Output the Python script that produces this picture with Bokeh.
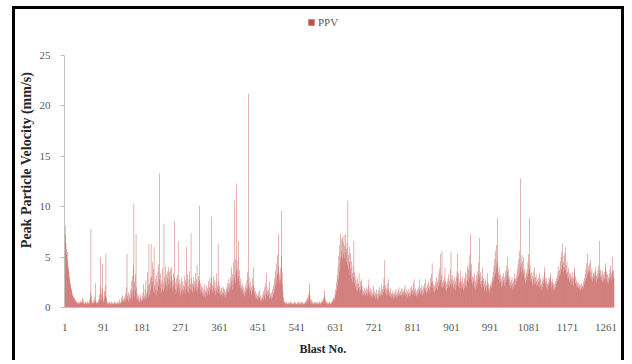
from bokeh.plotting import figure
from bokeh.models import FixedTicker, Range1d, Legend, LegendItem, Title
from bokeh.embed import file_html
from bokeh.resources import INLINE

# Peak particle velocity (mm/s) per blast
ppv = [
    9.5,8.1,7.2,6.4,5.8,5.2,5.5,4.6,4.1,3.8,3.5,3.0,2.8,2.4,2.2,1.9,1.7,1.5,1.3,1.2,
    1.1,0.9,0.8,1.0,0.7,0.6,0.8,0.5,0.6,0.4,0.5,0.4,0.6,0.3,0.5,0.4,0.7,0.5,0.4,0.6,
    0.5,1.0,0.6,0.4,0.8,0.5,0.3,0.4,0.6,0.5,0.4,0.3,0.5,0.6,0.4,0.3,0.5,0.7,0.4,0.9,
    1.5,7.8,1.2,0.6,0.4,0.5,0.8,0.4,0.6,1.1,0.5,2.4,0.7,0.5,0.4,0.6,0.5,0.4,0.8,0.5,
    0.6,1.3,0.9,2.1,5.0,1.4,0.8,1.9,4.3,1.1,0.7,0.5,1.6,0.9,2.2,1.2,5.3,1.0,0.6,0.4,
    0.5,0.3,0.4,0.6,0.5,0.4,0.3,0.5,0.4,0.6,0.3,0.4,0.5,0.3,0.4,0.6,0.5,0.3,0.4,0.5,
    0.4,0.3,0.5,0.4,0.6,0.3,0.5,0.4,0.8,0.5,0.4,0.6,1.0,0.5,0.7,1.2,0.6,0.9,0.5,0.8,
    1.1,0.7,1.4,0.9,2.0,5.3,1.2,0.8,1.5,0.6,0.9,1.3,0.7,1.8,1.0,2.6,1.4,0.9,3.1,1.6,
    4.2,10.3,2.5,1.1,3.3,1.7,7.3,2.0,0.9,1.4,0.8,1.2,0.6,1.0,0.7,0.5,0.9,1.3,0.6,0.8,
    1.1,0.7,1.5,0.9,2.3,1.2,0.8,1.8,1.0,2.7,1.4,0.9,3.5,1.6,2.2,1.1,6.3,2.4,1.3,2.9,
    1.7,6.3,3.1,2.0,4.5,2.6,1.5,3.8,6.0,2.2,1.4,2.8,1.8,3.2,1.2,2.5,1.6,3.6,2.1,4.3,
    13.3,2.8,1.9,3.4,2.3,1.5,2.7,1.8,3.9,2.4,1.6,8.3,3.0,1.9,2.6,4.1,2.2,3.3,1.7,2.9,
    3.6,2.3,4.0,2.8,3.5,1.9,3.8,2.5,4.0,3.1,2.0,2.7,1.6,3.4,2.2,8.6,3.0,1.8,2.5,1.4,
    2.9,1.7,3.2,2.1,6.6,2.4,1.5,2.8,1.9,1.2,2.3,1.6,3.0,1.8,2.6,1.3,2.2,1.7,3.1,2.0,
    1.4,2.7,1.8,6.0,2.5,1.6,3.3,2.1,1.5,2.8,1.9,3.6,2.3,1.7,7.4,2.9,1.8,2.4,1.5,3.0,
    2.2,1.6,2.6,1.9,3.4,2.3,1.7,2.8,4.2,2.0,1.5,2.5,3.1,10.1,2.7,1.8,2.4,1.4,2.1,1.6,
    1.3,2.0,1.5,1.1,1.8,2.3,1.2,1.7,1.0,1.5,2.2,1.4,1.9,1.2,2.6,1.6,2.0,1.3,3.0,1.8,
    2.4,9.0,2.9,1.7,2.2,1.4,3.1,2.0,1.6,2.7,1.9,1.3,2.5,1.7,3.4,2.1,1.5,6.3,2.6,1.8,
    1.4,2.2,1.6,1.2,1.9,1.3,2.0,1.5,1.1,2.0,1.4,1.8,1.2,1.6,1.0,1.5,1.9,1.3,2.4,1.6,
    2.1,1.5,2.8,1.9,2.4,1.7,3.0,2.2,4.0,2.6,1.8,3.3,2.3,4.5,2.7,10.6,3.2,4.8,2.5,3.6,
    12.3,3.9,2.8,4.6,6.6,3.1,2.2,3.7,2.6,1.9,2.9,2.1,1.6,2.4,1.8,1.3,2.0,1.5,1.1,1.7,
    1.4,2.2,1.6,1.9,2.7,1.8,3.5,2.3,21.2,3.0,2.0,1.5,2.5,1.7,1.3,2.1,1.6,2.9,1.8,4.0,
    2.2,1.5,1.9,1.2,1.6,1.0,1.4,0.9,1.2,0.8,1.1,1.5,0.9,1.7,1.0,0.7,1.2,0.8,1.0,0.6,
    0.9,1.3,0.8,1.6,1.1,2.0,1.3,0.9,2.4,1.4,3.4,1.6,1.1,2.0,1.3,1.7,0.9,2.6,1.4,1.0,
    1.2,0.8,1.5,1.0,1.8,1.2,2.2,1.5,2.9,1.8,3.6,2.2,4.4,2.6,3.1,5.2,3.4,7.3,4.1,2.7,
    3.3,2.4,3.9,2.8,5.1,9.6,3.5,2.3,1.6,1.0,0.7,0.5,0.6,0.4,0.5,0.3,0.4,0.6,0.4,0.3,
    0.5,0.4,0.3,0.5,0.4,0.6,0.3,0.4,0.5,0.3,0.4,0.5,0.3,0.4,0.6,0.4,0.3,0.5,0.4,0.3,
    0.4,0.5,0.3,0.4,0.6,0.3,0.5,0.4,0.3,0.5,0.4,0.3,0.6,0.4,0.5,0.3,0.4,0.5,0.3,0.4,
    0.6,0.5,0.4,0.8,0.6,1.0,0.7,1.3,0.9,1.6,2.4,1.1,0.7,0.5,0.8,0.4,0.6,0.3,0.5,0.4,
    0.3,0.5,0.4,0.3,0.6,0.4,0.5,0.3,0.4,0.5,0.3,0.4,0.6,0.5,0.4,0.3,0.5,0.4,0.6,0.7,
    0.5,0.8,0.6,1.0,1.2,1.7,0.9,0.7,0.5,0.4,0.6,0.3,0.5,0.4,0.3,0.5,0.4,0.6,0.3,0.4,
    0.5,0.4,0.6,0.7,0.5,0.8,1.0,0.6,0.9,1.3,1.8,1.2,2.5,1.6,3.2,2.1,4.0,2.8,5.1,3.6,
    6.2,4.4,7.3,5.0,6.8,5.6,7.0,4.8,6.5,5.3,7.2,4.9,6.1,5.5,7.3,4.6,5.8,6.4,4.2,10.6,
    5.2,3.8,6.0,4.5,3.2,5.4,3.9,2.8,4.6,3.4,2.5,4.1,3.0,6.6,3.5,2.4,3.1,2.0,2.7,1.8,
    2.3,1.6,2.9,1.9,2.4,3.4,2.0,1.5,2.6,1.8,2.2,2.8,1.7,1.3,2.1,1.6,1.2,1.9,1.4,1.1,
    1.7,1.3,2.0,1.5,1.2,1.8,1.4,2.2,2.8,1.6,1.3,1.9,1.1,1.5,1.2,1.8,1.0,1.4,2.1,1.3,
    1.1,1.6,1.2,0.9,1.5,1.1,1.8,1.3,0.8,1.4,1.0,1.7,1.2,2.0,1.4,1.1,1.6,2.3,1.3,1.8,
    1.2,2.1,1.5,2.9,1.8,4.7,2.2,1.4,1.9,1.2,1.7,2.4,1.3,1.8,2.8,1.5,1.1,1.6,1.2,1.9,
    1.4,1.0,1.5,1.1,1.7,1.3,0.9,1.4,1.0,1.6,1.2,1.8,1.3,0.9,1.5,1.1,1.7,1.2,2.0,1.4,
    1.1,1.6,1.2,1.9,1.3,1.0,1.5,1.8,1.2,1.6,1.9,1.4,2.2,1.5,1.1,1.7,1.3,1.0,1.6,1.2,
    1.4,1.8,1.1,1.5,1.2,1.9,1.4,2.1,1.6,1.3,1.8,2.4,1.5,2.8,1.7,1.2,1.9,1.4,1.1,1.6,
    1.3,1.8,1.2,2.0,1.5,2.8,1.7,1.3,1.9,1.4,2.2,1.6,1.2,1.8,1.4,2.1,1.5,1.9,2.4,2.8,
    1.7,1.3,2.0,1.5,2.3,1.6,1.9,2.6,1.8,2.2,1.5,2.9,2.0,3.3,2.4,4.4,2.6,1.9,2.3,1.6,
    2.1,1.5,2.6,1.8,2.3,3.0,1.9,2.5,1.7,2.8,2.1,3.4,2.4,3.9,5.3,2.7,2.0,3.2,5.6,2.5,
    1.9,2.7,2.1,3.0,2.4,4.0,2.6,1.8,2.3,1.6,2.5,1.9,2.9,2.2,3.3,2.0,2.6,3.8,2.3,5.5,
    2.8,2.1,3.2,2.4,1.8,2.7,2.0,3.0,2.3,1.7,2.6,3.1,2.2,3.6,5.3,2.9,2.1,3.4,2.5,1.9,
    2.8,3.7,2.4,1.8,2.6,2.0,3.1,2.3,1.7,2.5,1.9,2.9,2.2,3.5,2.6,2.0,3.3,4.1,2.7,3.8,
    2.5,4.4,3.0,5.2,7.3,3.6,2.8,4.3,2.4,3.1,2.2,3.0,2.6,3.4,2.0,2.7,1.8,2.5,2.1,3.2,
    2.4,3.6,2.8,4.5,3.3,6.9,3.0,2.3,3.5,2.6,2.0,3.1,4.0,2.7,2.1,2.9,2.3,1.7,2.6,2.0,
    2.8,2.2,1.6,2.5,3.4,2.1,1.7,2.4,1.9,1.5,2.2,2.2,1.8,2.6,2.0,3.0,2.4,3.5,2.7,4.2,
    3.1,4.8,3.4,5.6,3.9,6.2,4.3,8.9,4.6,3.5,2.8,4.0,3.1,2.4,3.3,2.6,2.0,2.9,2.2,3.1,
    2.5,3.4,2.7,2.1,3.0,2.4,3.6,2.8,4.1,3.2,5.0,3.5,2.7,3.8,2.9,2.2,3.1,2.5,1.9,2.7,
    2.1,3.0,2.4,1.8,2.6,2.0,2.8,3.4,2.2,2.9,2.3,3.2,2.6,3.7,2.8,4.3,3.1,4.8,3.4,5.6,
    4.0,12.8,4.4,3.5,5.2,3.8,4.6,3.3,5.0,3.6,2.8,3.9,3.0,2.4,3.4,2.7,3.8,3.1,4.5,3.4,
    5.3,3.8,8.9,4.2,3.3,2.6,3.5,2.8,2.2,3.1,2.5,3.6,2.9,2.3,4.0,3.0,2.4,3.3,2.6,2.1,
    2.8,2.2,3.0,2.5,2.0,3.4,2.7,2.1,2.9,2.3,1.8,2.6,2.0,3.1,2.4,2.8,3.5,4.0,2.9,2.3,
    2.6,2.0,2.9,2.3,1.8,2.5,2.1,3.0,2.4,2.8,3.1,3.4,2.6,2.0,2.5,2.8,2.2,1.7,2.4,1.9,
    2.3,1.8,2.6,2.0,2.9,2.4,3.2,2.6,3.6,2.8,4.1,3.1,3.7,4.6,3.3,5.0,3.8,5.5,4.2,6.3,
    4.5,3.6,5.1,4.0,5.4,3.7,6.0,4.2,3.3,4.6,3.5,2.8,3.9,3.0,2.5,3.4,2.7,3.4,2.9,2.3,
    3.1,2.6,3.5,2.8,2.2,3.0,3.6,4.0,3.1,2.4,2.8,2.1,2.6,2.0,2.4,1.9,2.5,2.0,2.3,1.8,
    2.2,1.7,2.4,1.9,2.1,2.2,1.8,2.6,2.0,2.9,2.3,3.3,2.6,3.8,2.9,4.4,3.2,5.3,3.6,4.1,
    3.4,4.4,3.7,3.0,4.7,3.5,2.8,3.9,3.1,2.6,3.4,2.9,3.6,3.2,2.7,3.5,4.0,3.1,2.5,3.3,
    2.8,3.7,3.0,4.2,3.4,6.6,3.8,3.0,3.6,2.7,3.2,2.5,3.7,2.9,3.3,2.6,3.5,2.8,3.9,4.4,
    3.2,3.6,2.7,3.3,2.5,3.0,2.4,3.4,2.8,3.8,3.0,4.2,3.3,2.7,3.6,5.0,3.5,3.0,3.7,2.9,
]
blast = list(range(1, len(ppv) + 1))
x_tick_labels = [1, 91, 181, 271, 361, 451, 541, 631, 721, 811, 901, 991, 1081, 1171, 1261]
y_tick_labels = [0, 5, 10, 15, 20, 25]

SERIF = "Liberation Serif"
BAR = "#C0504D"

# the plot area reaches above 25 to hold the legend; the axis itself stops at 25
p = figure(width=612, height=354, output_backend="svg", toolbar_location=None,
           x_range=Range1d(0.5, len(ppv) + 0.5), y_range=Range1d(0, 29.27),
           min_border_left=49, min_border_right=13, min_border_top=3,
           min_border_bottom=56)
# black frame around the picture (left, top, right)
p.styles = {"margin-left": "12px", "margin-top": "6px",
            "border-left": "3px solid black", "border-top": "3px solid black",
            "border-right": "3px solid black"}
p.outline_line_color = None
p.xgrid.visible = False
p.ygrid.visible = False
p.background_fill_color = "white"
p.border_fill_color = "white"

bars = p.vbar(x=blast, top=ppv, width=1.0, bottom=0, fill_color=BAR, line_color=None)

# axes
p.xaxis.ticker = FixedTicker(ticks=x_tick_labels)
p.yaxis.ticker = FixedTicker(ticks=y_tick_labels)
p.yaxis.bounds = (0, 25)
for ax in (p.xaxis[0], p.yaxis[0]):
    ax.axis_line_color = "#BFBFBF"
    ax.major_tick_line_color = "#BFBFBF"
    ax.minor_tick_line_color = None
    ax.major_label_text_font = SERIF
    ax.major_label_text_font_size = "11px"
    ax.major_label_text_color = "#595959"
    ax.axis_label_text_font = SERIF
    ax.axis_label_text_font_style = "bold"
    ax.axis_label_text_color = "#262626"

p.xaxis.major_tick_out = 0
p.xaxis.major_tick_in = 0
p.xaxis.major_label_standoff = 16

p.yaxis.major_tick_out = 4
p.yaxis.major_tick_in = 0
p.yaxis.major_label_standoff = 10
p.yaxis.axis_label = "Peak Particle Velocity (mm/s)"
p.yaxis.axis_label_text_font_size = "14px"
p.yaxis.axis_label_standoff = 3

# x-axis title, centred on the whole chart as in the reference
p.add_layout(Title(text="Blast No.", align="left", offset=235, standoff=12,
                   text_font=SERIF, text_font_size="12px", text_font_style="bold",
                   text_color="#262626"), "below")

# legend at the top of the plot area, above the 25 line
legend = Legend(items=[LegendItem(label="PPV", renderers=[bars])],
                location="top_center", orientation="horizontal",
                glyph_width=8, glyph_height=8, label_standoff=3,
                label_text_font=SERIF, label_text_font_size="11px",
                label_text_color="#595959", label_height=20, label_width=53,
                padding=0, margin=0, border_line_color=None,
                background_fill_alpha=0.0)
p.add_layout(legend)

open("out.html", "w").write(file_html(p, INLINE))
